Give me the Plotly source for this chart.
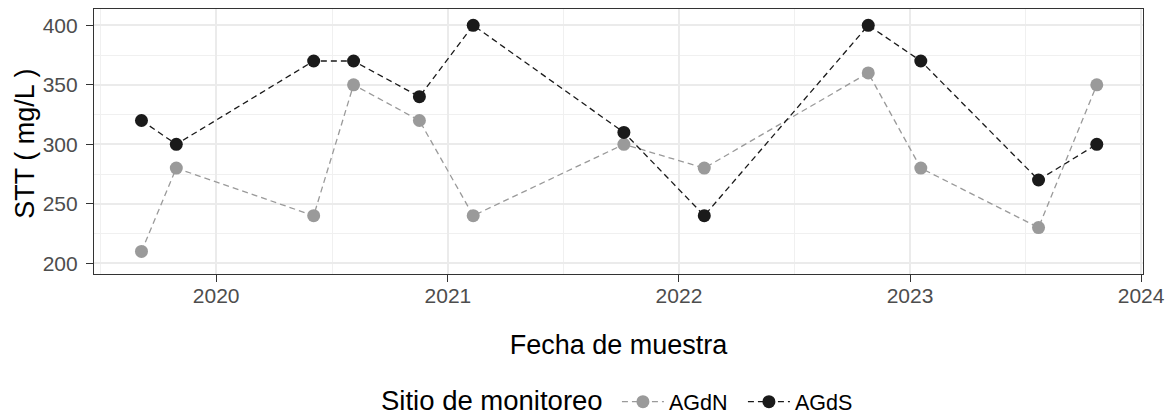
import plotly.graph_objects as go

fechas = ["2019-09-05", "2019-10-30", "2020-06-03", "2020-08-05", "2020-11-17",
          "2021-02-10", "2021-10-06", "2022-02-10", "2022-10-27", "2023-01-18",
          "2023-07-23", "2023-10-23"]
agdn = [210, 280, 240, 350, 320, 240, 300, 280, 360, 280, 230, 350]
agds = [320, 300, 370, 370, 340, 400, 310, 240, 400, 370, 270, 300]
x_ticks = ["2020-01-01", "2021-01-01", "2022-01-01", "2023-01-01", "2024-01-01"]
x_labels = ["2020", "2021", "2022", "2023", "2024"]
y_ticks = [200, 250, 300, 350, 400]

FONT = "Liberation Sans, Arial, sans-serif"

fig = go.Figure()
fig.add_trace(go.Scatter(
    x=fechas, y=agdn, name="AGdN", mode="lines+markers",
    line=dict(color="#9a9a9a", width=1.3, dash="6px,4px"),
    marker=dict(color="#9a9a9a", size=13),
))
fig.add_trace(go.Scatter(
    x=fechas, y=agds, name="AGdS", mode="lines+markers",
    line=dict(color="#1a1a1a", width=1.3, dash="6px,4px"),
    marker=dict(color="#1a1a1a", size=13),
))

axis_common = dict(
    showline=True, mirror=True, linecolor="#333333", linewidth=1.2,
    ticks="outside", ticklen=7, tickwidth=1.2, tickcolor="#333333",
    tickfont=dict(family=FONT, size=21, color="#4d4d4d"),
    showgrid=True, gridcolor="#ebebeb", gridwidth=1.5,
    zeroline=False, automargin=False,
)

fig.update_layout(
    width=1172, height=415,
    margin=dict(l=93.5, r=29, t=9, b=141),
    paper_bgcolor="white", plot_bgcolor="white",
    font=dict(family=FONT, color="black"),
    xaxis=dict(
        type="date", range=["2019-06-22", "2024-01-04"],
        tickmode="array", tickvals=x_ticks, ticktext=x_labels,
        minor=dict(tickvals=["2019-07-02", "2020-07-02", "2021-07-02", "2022-07-02", "2023-07-02"],
                   showgrid=True, gridcolor="#f0f0f0", gridwidth=0.8, ticks=""),
        title=dict(text="Fecha de muestra", font=dict(family=FONT, size=27, color="black"), standoff=28),
        ticklabelstandoff=-4,
        **axis_common,
    ),
    yaxis=dict(
        range=[191, 413.7],
        tickmode="array", tickvals=y_ticks,
        minor=dict(tickvals=[225, 275, 325, 375], showgrid=True, gridcolor="#f0f0f0", gridwidth=0.8, ticks=""),
        ticklabelstandoff=4,
        **axis_common,
    ),
    annotations=[
        dict(text="STT ( mg/L )", textangle=-90, showarrow=False,
             xref="paper", yref="paper", x=-0.0655, y=0.493,
             xanchor="center", yanchor="middle",
             font=dict(family=FONT, size=27, color="black")),
        dict(text="Sitio de monitoreo", showarrow=False,
             xref="paper", yref="paper", x=0.2729, y=-0.4755,
             xanchor="left", yanchor="middle", borderpad=0,
             font=dict(family=FONT, size=27.5, color="black")),
    ],
    showlegend=True,
    legend=dict(
        orientation="h", x=0.4985, xanchor="left", y=0.0321, yanchor="middle", yref="container",
        font=dict(family=FONT, size=21.5, color="black"),
        itemwidth=42, entrywidth=69, bgcolor="rgba(0,0,0,0)",
    ),
)

fig.write_html("out.html", config={"displayModeBar": False},
               post_script="document.body.style.margin='0';document.body.style.overflow='hidden';")
